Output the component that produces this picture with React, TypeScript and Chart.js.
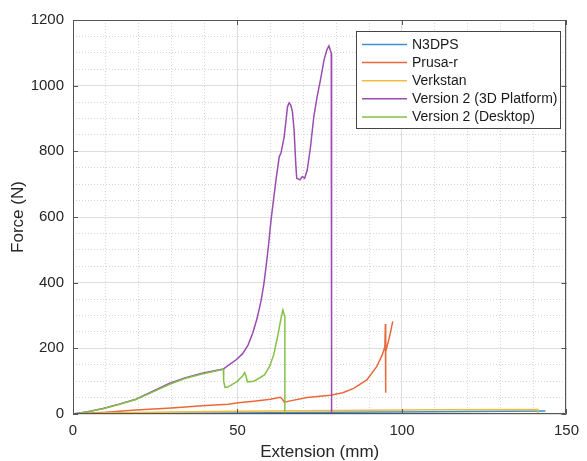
import React, { useEffect, useRef } from 'react';
import { Chart, registerables } from 'chart.js';

Chart.register(...registerables);

const seriesLabels = ['N3DPS', 'Prusa-r', 'Verkstan', 'Version 2 (3D Platform)', 'Version 2 (Desktop)'];
const seriesColors = ['#3d8fd1', '#e8693a', '#efbd3c', '#9a4cb0', '#85bf47'];

const xMajorTicks = [0, 50, 100, 150];
const yMajorTicks = [0, 200, 400, 600, 800, 1000, 1200];

const n3dpsX = [0, 10, 30, 50, 80, 110, 143.6];
const n3dpsY = [0, 1, 2, 3, 5, 7, 9];

const prusaX = [0, 10, 19.1, 30, 39.2, 47.2, 50.2, 55, 60, 63.0, 63.6, 64.2, 66, 71.2, 78.2, 82, 85.3, 89.3, 92.3, 94, 94.8, 94.95, 95.0, 95.1, 96.2, 97.2];
const prusaY = [0, 5, 12, 18, 25, 30, 34, 39, 45, 51, 46, 36, 40, 50, 57, 65, 78, 104, 144, 180, 205, 274, 65, 190, 235, 282];

const verkstanX = [0, 10, 30, 50, 80, 110, 141.3, 141.3];
const verkstanY = [0, 3, 6, 8, 11, 13, 14, 0];

const v2PlatformX = [0, 4.5, 9.1, 14, 19.1, 24, 29.2, 34, 39.2, 45.7, 47.2, 48.5, 49.7, 51.5, 53.2, 54.7, 56, 57.2, 58, 58.7, 59.5, 60.2, 61.7, 62.7, 63.2, 64.2, 65.2, 65.7, 66.2, 66.7, 67.2, 67.7, 68.0, 69.0, 69.7, 70.4, 71.2, 72.2, 73.2, 74.2, 75.2, 76.3, 77.2, 77.8, 78.5, 78.6];
const v2PlatformY = [0, 7, 17, 30, 45, 68, 93, 110, 124, 137, 148, 157, 166, 183, 210, 248, 293, 347, 395, 450, 520, 591, 713, 784, 794, 845, 936, 948, 941, 921, 865, 764, 718, 713, 723, 718, 743, 814, 906, 966, 1017, 1078, 1110, 1121, 1099, 0];

const v2DesktopX = [0, 4.5, 9.1, 14, 19.1, 24, 29.2, 34, 39.2, 45.7, 45.8, 46.2, 47, 49.7, 51.5, 52.2, 52.6, 53, 55, 58.2, 59.7, 61, 62.2, 63.2, 63.8, 64.4, 64.4];
const v2DesktopY = [0, 7, 16, 29, 44, 66, 90, 108, 122, 136, 100, 81, 82, 98, 115, 126, 115, 98, 100, 119, 144, 180, 236, 290, 317, 296, 0];

const seriesX = [n3dpsX, prusaX, verkstanX, v2PlatformX, v2DesktopX];
const seriesY = [n3dpsY, prusaY, verkstanY, v2PlatformY, v2DesktopY];

const FONT = "'Liberation Sans', Arial, Helvetica, sans-serif";

const framePlugin = {
  id: 'frame',
  afterDatasetsDraw(chart: any) {
    const { ctx, chartArea, scales } = chart;
    const { left, right, top, bottom } = chartArea;
    const xs = scales.x;
    const ys = scales.y;
    ctx.save();
    ctx.strokeStyle = '#555555';
    ctx.lineWidth = 1;
    ctx.beginPath();
    ctx.rect(Math.round(left) + 0.5, Math.round(top) + 0.5, Math.round(right - left) - 1, Math.round(bottom - top) - 1);
    ctx.stroke();
    const tl = 5;
    ctx.beginPath();
    xMajorTicks.forEach((v) => {
      const px = Math.round(xs.getPixelForValue(v)) + 0.5;
      ctx.moveTo(px, bottom);
      ctx.lineTo(px, bottom - tl);
      ctx.moveTo(px, top);
      ctx.lineTo(px, top + tl);
    });
    yMajorTicks.forEach((v) => {
      const py = Math.round(ys.getPixelForValue(v)) + 0.5;
      ctx.moveTo(left, py);
      ctx.lineTo(left + tl, py);
      ctx.moveTo(right, py);
      ctx.lineTo(right - tl, py);
    });
    ctx.stroke();

    // legend
    const bx = 356.5, by = 31.5, bw = 204, bh = 97;
    ctx.fillStyle = '#ffffff';
    ctx.fillRect(bx, by, bw, bh);
    ctx.strokeStyle = '#444444';
    ctx.strokeRect(bx, by, bw, bh);
    ctx.font = `14px ${FONT}`;
    ctx.textBaseline = 'middle';
    ctx.textAlign = 'left';
    chart.data.datasets.forEach((ds: any, i: number) => {
      const yy = 44.5 + i * 18.1;
      ctx.strokeStyle = ds.borderColor;
      ctx.lineWidth = 1.5;
      ctx.beginPath();
      ctx.moveTo(362, yy);
      ctx.lineTo(407, yy);
      ctx.stroke();
      ctx.fillStyle = '#1a1a1a';
      ctx.fillText(ds.label, 412, yy + 0.5);
    });
    ctx.restore();
  },
};

export default function App() {
  const ref = useRef<HTMLCanvasElement>(null);
  useEffect(() => {
    if (!ref.current) return;
    const datasets = seriesLabels.map((label, i) => ({
      label,
      data: seriesX[i].map((x, j) => ({ x, y: seriesY[i][j] })),
      borderColor: seriesColors[i],
      backgroundColor: seriesColors[i],
      borderWidth: 1.5,
      pointRadius: 0,
      tension: 0,
      fill: false,
      order: 5 - i,
    }));
    const majorColor = 'rgba(0,0,0,0.13)';
    const minorColor = 'rgba(0,0,0,0.16)';
    const chart = new Chart(ref.current, {
      type: 'line',
      data: { datasets },
      plugins: [framePlugin],
      options: {
        responsive: false,
        animation: false,
        devicePixelRatio: 1,
        layout: { padding: { top: 20, right: 15, left: 0, bottom: 0 } },
        plugins: { legend: { display: false }, tooltip: { enabled: false } },
        scales: {
          x: {
            type: 'linear',
            min: 0,
            max: 150,
            afterFit: (s: any) => { s.height = 47; },
            ticks: {
              stepSize: 10,
              autoSkip: false,
              maxRotation: 0,
              padding: 8,
              color: '#262626',
              font: { family: FONT, size: 15 },
              callback: (v: any) => (xMajorTicks.includes(Number(v)) ? String(v) : ''),
            },
            grid: {
              drawTicks: false,
              color: (c: any) => (c.tick && c.tick.value % 50 === 0 ? majorColor : minorColor),
            },
            border: {
              display: false,
              dash: (c: any) => (c.tick && c.tick.value % 50 === 0 ? [] : [1, 2]),
            },
            title: {
              display: true,
              text: 'Extension (mm)',
              color: '#262626',
              font: { family: FONT, size: 17, lineHeight: 1 },
              padding: { top: 0, bottom: 0 },
            },
          },
          y: {
            type: 'linear',
            min: 0,
            max: 1200,
            afterFit: (s: any) => { s.width = 73; },
            ticks: {
              stepSize: 50,
              autoSkip: false,
              padding: 9,
              color: '#262626',
              font: { family: FONT, size: 15 },
              callback: (v: any) => (yMajorTicks.includes(Number(v)) ? String(v) : ''),
            },
            grid: {
              drawTicks: false,
              color: (c: any) => (c.tick && c.tick.value % 200 === 0 ? majorColor : minorColor),
            },
            border: {
              display: false,
              dash: (c: any) => (c.tick && c.tick.value % 200 === 0 ? [] : [1, 2]),
            },
            title: {
              display: true,
              text: 'Force (N)',
              color: '#262626',
              font: { family: FONT, size: 17, lineHeight: 1 },
              padding: { top: 10, bottom: 0 },
            },
          },
        },
      } as any,
    });
    return () => chart.destroy();
  }, []);
  return (
    <div style={{ position: 'fixed', left: 0, top: 0, width: 587, height: 461, background: '#fff' }}>
      <canvas ref={ref} width={587} height={461} style={{ display: 'block', width: 587, height: 461 }} />
    </div>
  );
}
